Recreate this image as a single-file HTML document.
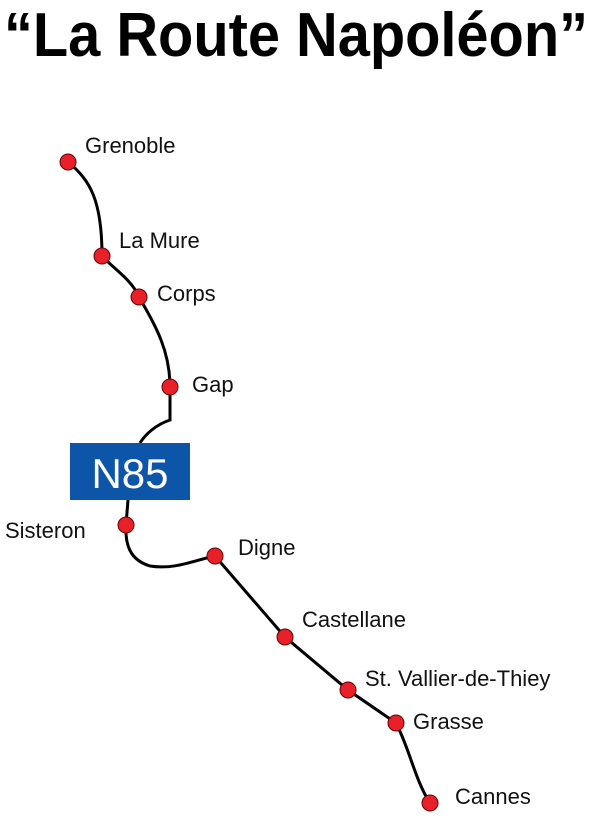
<!DOCTYPE html>
<html><head><style>html,body{margin:0;padding:0;background:#fff}</style></head>
<body>
<svg width="600" height="817" viewBox="0 0 600 817" xmlns="http://www.w3.org/2000/svg" font-family="Liberation Sans, sans-serif">
<text x="4" y="56" font-size="62" font-weight="bold" textLength="584" lengthAdjust="spacingAndGlyphs">“La Route Napoléon”</text>
<path d="M68,162 C90,180 102,200 102,256 C115,270 132,280 139,297 C155,325 170,350 170,387 L170,420 C155,425 145,435 140,443" fill="none" stroke="#000" stroke-width="3"/>
<path d="M128,500 L126,525 C125,545 130,560 150,566 C175,570 195,560 215,556 L285,637 L348,690 L396,723 C410,750 415,780 430,803" fill="none" stroke="#000" stroke-width="3"/>
<rect x="70" y="443" width="120" height="57" fill="#0d55a8"/>
<text x="130" y="488" font-size="42" fill="#fff" text-anchor="middle">N85</text>
<g fill="#e8202a" stroke="#6a0000" stroke-width="1">
<circle cx="68" cy="162" r="8"/><circle cx="102" cy="256" r="8"/><circle cx="139" cy="297" r="8"/><circle cx="170" cy="387" r="8"/>
<circle cx="126" cy="525" r="8"/><circle cx="215" cy="556" r="8"/><circle cx="285" cy="637" r="8"/><circle cx="348" cy="690" r="8"/><circle cx="396" cy="723" r="8"/><circle cx="430" cy="803" r="8"/>
</g>
<g font-size="22" fill="#111">
<text x="85" y="153">Grenoble</text>
<text x="119" y="248">La Mure</text>
<text x="157" y="301">Corps</text>
<text x="192" y="392">Gap</text>
<text x="5" y="538">Sisteron</text>
<text x="238" y="555">Digne</text>
<text x="302" y="627">Castellane</text>
<text x="365" y="686">St. Vallier-de-Thiey</text>
<text x="413" y="729">Grasse</text>
<text x="455" y="804">Cannes</text>
</g>
</svg>
</body></html>
